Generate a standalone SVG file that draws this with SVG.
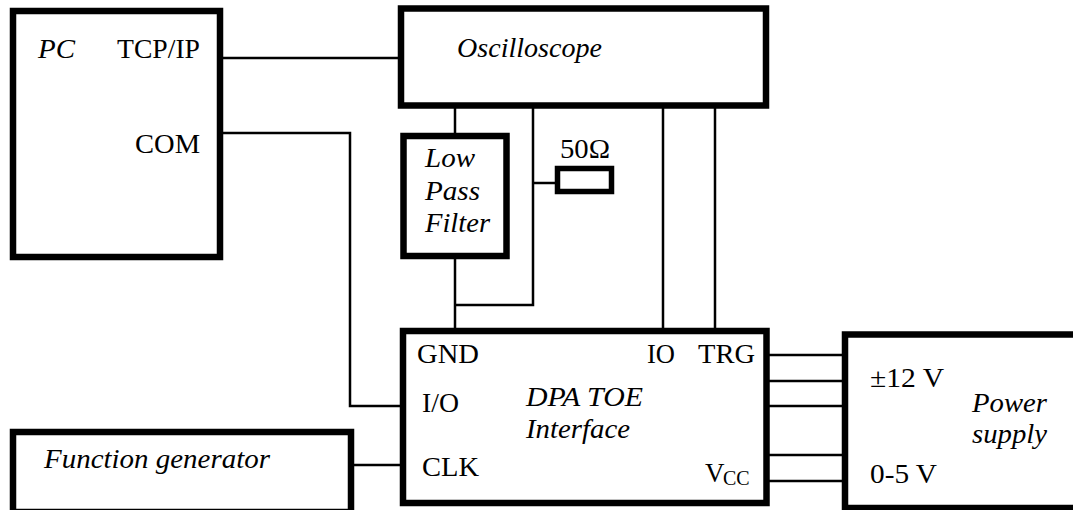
<svg xmlns="http://www.w3.org/2000/svg" width="1073" height="510" viewBox="0 0 1073 510">
<defs>
<style>
.box{fill:#fff;stroke:#000;stroke-width:6.5}
.res{fill:#fff;stroke:#000;stroke-width:5.5}
.wire{fill:none;stroke:#000;stroke-width:2.5}
</style>
</defs>
<rect width="1073" height="510" fill="#fff"/>
<g id="connectors">
<line class="wire" x1="220" y1="58" x2="401" y2="58"/>
<polyline class="wire" points="220,133 350,133 350,406 403,406"/>
<line class="wire" x1="455" y1="106" x2="455" y2="136"/>
<line class="wire" x1="455" y1="256" x2="455" y2="331"/>
<polyline class="wire" points="455,305 533,305 533,106"/>
<line class="wire" x1="533" y1="183" x2="557" y2="183"/>
<line class="wire" x1="663" y1="106" x2="663" y2="331"/>
<line class="wire" x1="715" y1="106" x2="715" y2="331"/>
<line class="wire" x1="351" y1="465" x2="403" y2="465"/>
<line class="wire" x1="766" y1="355" x2="845" y2="355"/>
<line class="wire" x1="766" y1="381" x2="845" y2="381"/>
<line class="wire" x1="766" y1="406" x2="845" y2="406"/>
<line class="wire" x1="766" y1="455" x2="845" y2="455"/>
<line class="wire" x1="766" y1="481" x2="845" y2="481"/>
</g>
<g id="pc">
<rect class="box" x="13" y="11" width="207" height="246"/>
<text font-family="Liberation Serif" font-size="27" font-style="italic" x="38" y="58" textLength="37" lengthAdjust="spacingAndGlyphs">PC</text>
<text font-family="Liberation Serif" font-size="27" x="117" y="58" textLength="83" lengthAdjust="spacingAndGlyphs">TCP/IP</text>
<text font-family="Liberation Serif" font-size="27" x="135" y="153" textLength="65" lengthAdjust="spacingAndGlyphs">COM</text>
</g>
<g id="oscilloscope">
<rect class="box" x="401" y="8.5" width="365" height="97"/>
<text font-family="Liberation Serif" font-size="27" font-style="italic" x="457" y="57" textLength="145" lengthAdjust="spacingAndGlyphs">Oscilloscope</text>
</g>
<g id="lpf">
<rect class="box" x="403.5" y="136" width="103" height="120"/>
<text font-family="Liberation Serif" font-size="27" font-style="italic" x="425" y="167" textLength="50" lengthAdjust="spacingAndGlyphs">Low</text>
<text font-family="Liberation Serif" font-size="27" font-style="italic" x="425" y="200" textLength="55" lengthAdjust="spacingAndGlyphs">Pass</text>
<text font-family="Liberation Serif" font-size="27" font-style="italic" x="425" y="232" textLength="65" lengthAdjust="spacingAndGlyphs">Filter</text>
</g>
<g id="resistor">
<rect class="res" x="557.5" y="168.5" width="54" height="23"/>
<text font-family="Liberation Serif" font-size="27" x="560" y="158" textLength="50" lengthAdjust="spacingAndGlyphs">50Ω</text>
</g>
<g id="dpa">
<rect class="box" x="403" y="331" width="363.5" height="172"/>
<text font-family="Liberation Serif" font-size="27" x="417" y="363" textLength="62" lengthAdjust="spacingAndGlyphs">GND</text>
<text font-family="Liberation Serif" font-size="27" x="647" y="363" textLength="28" lengthAdjust="spacingAndGlyphs">IO</text>
<text font-family="Liberation Serif" font-size="27" x="698" y="363" textLength="57" lengthAdjust="spacingAndGlyphs">TRG</text>
<text font-family="Liberation Serif" font-size="27" x="422" y="412" textLength="37" lengthAdjust="spacingAndGlyphs">I/O</text>
<text font-family="Liberation Serif" font-size="27" x="422" y="476" textLength="57" lengthAdjust="spacingAndGlyphs">CLK</text>
<text font-family="Liberation Serif" font-size="27" font-style="italic" x="526" y="406" textLength="117" lengthAdjust="spacingAndGlyphs">DPA TOE</text>
<text font-family="Liberation Serif" font-size="27" font-style="italic" x="526" y="438" textLength="104" lengthAdjust="spacingAndGlyphs">Interface</text>
<text font-family="Liberation Serif" font-size="27" x="705" y="482">V<tspan x="723" y="485" font-size="20">CC</tspan></text>
</g>
<g id="power">
<rect class="box" x="845" y="334.5" width="240" height="173.5"/>
<text font-family="Liberation Serif" font-size="27" x="870" y="387" textLength="74" lengthAdjust="spacingAndGlyphs">±12 V</text>
<text font-family="Liberation Serif" font-size="27" x="870" y="483" textLength="67" lengthAdjust="spacingAndGlyphs">0-5 V</text>
<text font-family="Liberation Serif" font-size="27" font-style="italic" x="972" y="412" textLength="75" lengthAdjust="spacingAndGlyphs">Power</text>
<text font-family="Liberation Serif" font-size="27" font-style="italic" x="972" y="443" textLength="75" lengthAdjust="spacingAndGlyphs">supply</text>
</g>
<g id="funcgen">
<rect class="box" x="13" y="432" width="338" height="80"/>
<text font-family="Liberation Serif" font-size="27" font-style="italic" x="44" y="468" textLength="226" lengthAdjust="spacingAndGlyphs">Function generator</text>
</g>
</svg>
